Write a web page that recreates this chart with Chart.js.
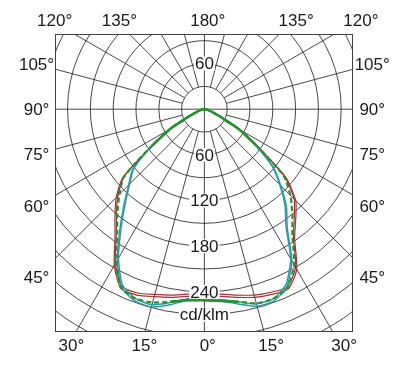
<!DOCTYPE html>
<html>
<head>
<meta charset="utf-8">
<script src="https://cdn.jsdelivr.net/npm/chart.js@4"></script>
<style>
  html, body { margin: 0; padding: 0; background: #fff; }
  canvas { display: block; }
</style>
</head>
<body>
<canvas id="c" width="400" height="371"></canvas>
<script>
// gamma angles (deg from nadir), intensities in cd/klm
const gamma = [0, 5, 10, 15, 20, 25, 30, 35, 40, 45, 50, 55, 60, 65, 70, 75, 80, 85, 90];

const red1L = [246, 247, 251, 255, 260, 260, 237, 205, 183, 164, 140, 85, 52, 23, 11, 6, 3, 1, 0];
const red1R = [246, 247, 251, 256, 259, 261, 243, 207, 187, 170, 140, 85, 52, 23, 11, 6, 3, 1, 0];
const red2L = [243, 244, 248, 252, 257, 257, 234, 202, 180, 161, 138, 85, 52, 23, 11, 6, 3, 1, 0];
const red2R = [243, 244, 248, 253, 256, 258, 240, 204, 184, 167, 138, 85, 52, 23, 11, 6, 3, 1, 0];

const teal1L = [250, 252, 261, 269, 268, 258, 229, 194, 165, 141, 123, 85, 52, 23, 11, 6, 3, 1, 0];
const teal1R = [250, 253, 260, 268, 268, 257, 230, 190, 168, 142, 118, 82, 52, 23, 11, 6, 3, 1, 0];
const teal2L = [248, 250, 258, 266, 265, 255, 226, 191, 162, 139, 121, 84, 52, 23, 11, 6, 3, 1, 0];
const teal2R = [248, 251, 257, 265, 265, 254, 227, 187, 165, 140, 116, 81, 52, 23, 11, 6, 3, 1, 0];

const greenL = [251, 252, 257, 263, 265, 259, 233, 200, 178, 158, 138, 85, 52, 23, 11, 6, 3, 1, 0];
const greenR = [251, 253, 257, 264, 265, 259, 236, 202, 180, 160, 136, 84, 52, 23, 11, 6, 3, 1, 0];

const rings = [30, 60, 90, 120, 150, 180, 210, 240, 270, 300, 330, 360];
const ringLabelsUp = [60];
const ringLabelsDown = [60, 120, 180, 240];
const unitLabel = 'cd/klm';
const angleTicks = [0, 15, 30, 45, 60, 75, 90, 105, 120, 135, 180];

// polar (gamma, I) -> cartesian, left half then right half
function toXY(left, right) {
  const pts = [];
  for (let i = gamma.length - 1; i >= 0; i--) {
    const a = gamma[i] * Math.PI / 180;
    pts.push({ x: -left[i] * Math.sin(a), y: -left[i] * Math.cos(a), g: gamma[i] });
  }
  for (let i = 1; i < gamma.length; i++) {
    const a = gamma[i] * Math.PI / 180;
    pts.push({ x: right[i] * Math.sin(a), y: -right[i] * Math.cos(a), g: gamma[i] });
  }
  return pts;
}

const FONT = '17px "Liberation Sans", Arial, sans-serif';

const polarGrid = {
  id: 'polarGrid',
  beforeDatasetsDraw(chart) {
    const { ctx, chartArea: a, scales: { x, y } } = chart;
    const cx = x.getPixelForValue(0), cy = y.getPixelForValue(0);
    const kx = x.getPixelForValue(1) - cx, ky = cy - y.getPixelForValue(1);
    ctx.save();
    ctx.beginPath();
    ctx.rect(a.left, a.top, a.right - a.left, a.bottom - a.top);
    ctx.clip();
    ctx.strokeStyle = '#333';
    ctx.lineWidth = 0.9;
    rings.forEach(r => {
      ctx.beginPath();
      ctx.ellipse(cx, cy, r * kx, r * ky, 0, 0, 2 * Math.PI);
      ctx.stroke();
    });
    for (let g = 0; g < 360; g += 15) {
      const rad = g * Math.PI / 180;
      const r0 = g % 90 === 0 ? 0 : 30;
      const sx = Math.sin(rad), sy = Math.cos(rad);
      ctx.beginPath();
      ctx.moveTo(cx + r0 * sx * kx, cy + r0 * sy * ky);
      ctx.lineTo(cx + 500 * sx * kx, cy + 500 * sy * ky);
      ctx.stroke();
    }
    ctx.restore();
    ctx.save();
    ctx.strokeStyle = '#404040';
    ctx.lineWidth = 1;
    ctx.strokeRect(a.left + 0.5, a.top + 0.5, a.right - a.left - 1, a.bottom - a.top - 1);
    ctx.restore();
  },
  afterDatasetsDraw(chart) {
    const { ctx, scales: { x, y } } = chart;
    const cx = x.getPixelForValue(0);
    ctx.save();
    ctx.font = FONT;
    ctx.textAlign = 'center';
    ctx.textBaseline = 'middle';
    const box = (txt, py) => {
      const w = ctx.measureText(txt).width + 2;
      ctx.fillStyle = '#fff';
      ctx.fillRect(cx - w / 2, py - 7, w, 14);
      ctx.fillStyle = '#1a1a1a';
      ctx.fillText(txt, cx, py + 1);
    };
    ringLabelsUp.forEach(v => box(String(v), y.getPixelForValue(v)));
    ringLabelsDown.forEach(v => box(String(v), y.getPixelForValue(-v)));
    box(unitLabel, y.getPixelForValue(-270));

    // angle labels around the frame
    const side = 220.8, top = 116.3, bottom = 310.8;
    angleTicks.forEach(g => {
      const signs = (g === 0 || g === 180) ? [1] : [-1, 1];
      signs.forEach(s => {
        const rad = g * Math.PI / 180;
        const dx = s * Math.sin(rad), dy = -Math.cos(rad);
        let t = Infinity, onSide = false;
        if (Math.abs(dx) > 1e-9) { t = side / Math.abs(dx); onSide = true; }
        if (dy > 1e-9 && top / dy < t) { t = top / dy; onSide = false; }
        if (dy < -1e-9 && bottom / -dy < t) { t = bottom / -dy; onSide = false; }
        const px = x.getPixelForValue(dx * t), py = y.getPixelForValue(dy * t);
        ctx.fillStyle = '#1a1a1a';
        const num = String(g), deg = '\u00b0';
        if (onSide) {
          ctx.textAlign = 'center';
          ctx.fillText(num + deg, px, py + 1);
        } else {
          const wn = ctx.measureText(num).width;
          ctx.textAlign = 'left';
          ctx.fillText(num + deg, px - wn / 2, py + 1);
        }
      });
    });
    ctx.restore();
  }
};

const line = (data, color, width, dash) => ({
  data, borderColor: color, borderWidth: width, borderDash: dash || [],
  showLine: true, pointRadius: 0, tension: 0.2, fill: false, spanGaps: false
});

const greenPts = toXY(greenL, greenR);
// solid part of the green curve: near the top (γ >= 55) and bottom centre (γ <= 10)
const greenSolidPts = greenPts.map(p => (p.g >= 55 || p.g <= 10) ? p : { x: NaN, y: NaN });

// Chart.js paints the first dataset last, so the green ones come first
new Chart(document.getElementById('c'), {
  type: 'scatter',
  data: {
    datasets: [
      line(greenSolidPts, '#2b8f35', 2.6),
      line(greenPts, '#2b8f35', 2.2, [5, 3]),
      line(toXY(teal1L, teal1R), '#2f979e', 1.4),
      line(toXY(teal2L, teal2R), '#2f979e', 1.4),
      line(toXY(red1L, red1R), '#9e3434', 1.2),
      line(toXY(red2L, red2R), '#9e3434', 1.2)
    ]
  },
  options: {
    responsive: false,
    devicePixelRatio: 1,
    animation: false,
    layout: { padding: { left: 55, top: 34, right: 47, bottom: 39 } },
    plugins: { legend: { display: false }, tooltip: { enabled: false } },
    scales: {
      x: { type: 'linear', min: -196.5, max: 195.5, display: false },
      y: { type: 'linear', min: -292.8, max: 98.8, display: false }
    }
  },
  plugins: [polarGrid]
});
</script>
</body>
</html>
